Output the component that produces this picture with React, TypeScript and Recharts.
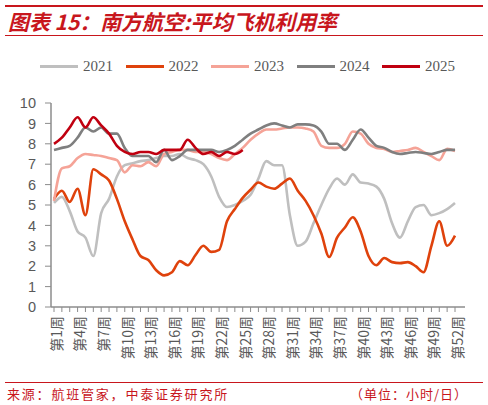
import React from "react"
import { LineChart, Line, XAxis, YAxis } from "recharts"

const weeks = Array.from({ length: 52 }, (_, i) => `第${i + 1}周`)

const y2021 = [5.1, 5.4, 4.7, 3.7, 3.4, 2.5, 4.6, 5.3, 6.4, 6.95, 7.05, 7.15, 7.2, 7.3, 7.4, 7.4, 7.5, 7.3, 7.2, 7.0, 6.4, 5.4, 4.9, 5.0, 5.2, 5.5, 6.3, 7.15, 6.95, 6.95, 4.5, 3.0, 3.2, 4.1, 5.0, 5.8, 6.3, 6.0, 6.5, 6.1, 6.05, 5.9, 5.3, 4.1, 3.4, 4.2, 4.9, 5.0, 4.5, 4.6, 4.8, 5.1]
const y2022 = [5.3, 5.7, 5.15, 5.8, 4.5, 6.75, 6.5, 6.2, 5.3, 4.2, 3.3, 2.5, 2.3, 1.8, 1.55, 1.7, 2.25, 2.05, 2.55, 3.0, 2.7, 2.8, 4.2, 4.8, 5.35, 5.75, 6.1, 5.9, 5.8, 6.05, 6.3, 5.7, 5.2, 4.5, 3.6, 2.45, 3.4, 3.9, 4.4, 3.7, 2.5, 2.05, 2.4, 2.2, 2.15, 2.2, 2.0, 1.7, 3.0, 4.2, 3.0, 3.5]
const y2023 = [5.2, 6.8, 6.9, 7.3, 7.5, 7.45, 7.4, 7.3, 7.2, 6.6, 6.95, 6.9, 7.1, 6.9, 7.5, 7.6, 7.7, 7.7, 7.6, 7.6, 7.5, 7.3, 7.2, 7.5, 7.8, 8.2, 8.5, 8.7, 8.7, 8.75, 8.8, 8.8, 8.75, 8.6, 7.9, 7.8, 7.8, 8.0, 8.6, 8.5, 8.0, 7.8, 7.75, 7.6, 7.65, 7.7, 7.8, 7.6, 7.4, 7.2, 7.75, 7.65]
const y2024 = [7.7, 7.8, 7.9, 8.3, 8.8, 8.6, 8.8, 8.5, 8.5, 7.8, 7.4, 7.4, 7.4, 7.1, 7.7, 7.2, 7.4, 7.7, 7.7, 7.7, 7.7, 7.6, 7.7, 7.9, 8.2, 8.5, 8.7, 8.9, 9.0, 8.9, 8.8, 8.95, 8.95, 8.9, 8.6, 8.0, 8.0, 7.7, 8.2, 8.7, 8.3, 7.9, 7.8, 7.6, 7.5, 7.55, 7.6, 7.55, 7.5, 7.6, 7.7, 7.7]
const y2025 = [8.0, 8.3, 8.8, 9.3, 8.8, 9.3, 8.9, 8.5, 7.9, 7.6, 7.5, 7.6, 7.6, 7.5, 7.7, 7.7, 7.7, 8.2, 7.8, 7.5, 7.6, 7.4, 7.6, 7.5, 7.7]

const yTicks = [0, 1, 2, 3, 4, 5, 6, 7, 8, 9, 10]

const series = [
  { key: "y2021", name: "2021", color: "#BFBFBF" },
  { key: "y2022", name: "2022", color: "#DF420C" },
  { key: "y2023", name: "2023", color: "#F5A397" },
  { key: "y2024", name: "2024", color: "#7F7F7F" },
  { key: "y2025", name: "2025", color: "#C00010" },
]

const data = weeks.map((week, i) => ({
  week,
  y2021: y2021[i],
  y2022: y2022[i],
  y2023: y2023[i],
  y2024: y2024[i],
  y2025: y2025[i],
}))

const RED = "#C8161D"
const AXIS = "#8C8C8C"
const cjk = '"Noto Sans CJK SC", "Liberation Sans", sans-serif'

function WeekTick(props: any) {
  const { x, y, payload } = props
  const idx = payload?.index ?? props.index
  if (idx % 3 !== 0) return <g />
  return (
    <g transform={`translate(${x + 3},${y + 2}) rotate(-90)`}>
      <text x={0} y={0} dy="0.35em" textAnchor="end" fontSize={14} fill="#595959" fontFamily={cjk}>
        {payload.value}
      </text>
    </g>
  )
}

export default function App() {
  return (
    <div style={{ position: "absolute", left: 0, top: 0, width: 488, height: 405, background: "#fff", fontFamily: cjk }}>
      <div style={{ position: "absolute", left: 5, top: 5, width: 478, height: 2, background: RED }} />
      <div style={{ position: "absolute", left: 5, top: 35, width: 478, height: 1, background: RED }} />
      <svg style={{ position: "absolute", left: 0, top: 0, overflow: "visible" }} width={488} height={44}>
        <text
          x={8}
          y={29.5}
          textLength={329}
          lengthAdjust="spacingAndGlyphs"
          fontSize={21}
          fontWeight="bold"
          fontStyle="italic"
          fill={RED}
          fontFamily={cjk}
        >
          图表 15：南方航空:平均飞机利用率
        </text>
      </svg>

      {series.map((s, i) => (
        <div key={s.key} style={{ position: "absolute", left: 40 + i * 85.5, top: 56, height: 20, display: "flex", alignItems: "center" }}>
          <div style={{ width: 38, height: 3, background: s.color }} />
          <span style={{ marginLeft: 5, fontSize: 15, color: "#595959", fontFamily: '"Liberation Serif", serif' }}>{s.name}</span>
        </div>
      ))}

      <div style={{ position: "absolute", left: 0, top: 0 }}>
        <LineChart width={488} height={405} data={data} margin={{ top: 103, right: 23, bottom: 38, left: 11 }}>
          <XAxis
            dataKey="week"
            interval={0}
            tick={<WeekTick />}
            tickSize={5}
            tickLine={{ stroke: AXIS }}
            axisLine={{ stroke: AXIS, strokeWidth: 1.5 }}
            padding={{ left: 3, right: 10 }}
            height={60}
          />
          <YAxis
            domain={[0, 10]}
            ticks={yTicks}
            interval={0}
            width={40}
            tickSize={6}
            tickMargin={9}
            tickLine={{ stroke: AXIS }}
            axisLine={{ stroke: AXIS, strokeWidth: 1.5 }}
            tick={{ fontSize: 14.5, fill: "#595959", fontFamily: '"Liberation Sans", Arial, sans-serif' }}
          />
          {series.map((s) => (
            <Line
              key={s.key}
              type="monotone"
              dataKey={s.key}
              name={s.name}
              stroke={s.color}
              strokeWidth={2.6}
              dot={false}
              activeDot={false}
              connectNulls={false}
              isAnimationActive={false}
            />
          ))}
        </LineChart>
      </div>

      <div style={{ position: "absolute", left: 5, top: 382, width: 478, height: 1, background: RED }} />
      <div style={{ position: "absolute", left: 7, top: 385, fontSize: 13, color: RED, letterSpacing: 1.8, whiteSpace: "nowrap", lineHeight: "18px" }}>
        来源：航班管家，中泰证券研究所
      </div>
      <div style={{ position: "absolute", right: 20, top: 385, fontSize: 13, color: RED, letterSpacing: 1, whiteSpace: "nowrap", lineHeight: "18px" }}>
        （单位：小时/日）
      </div>
    </div>
  )
}
